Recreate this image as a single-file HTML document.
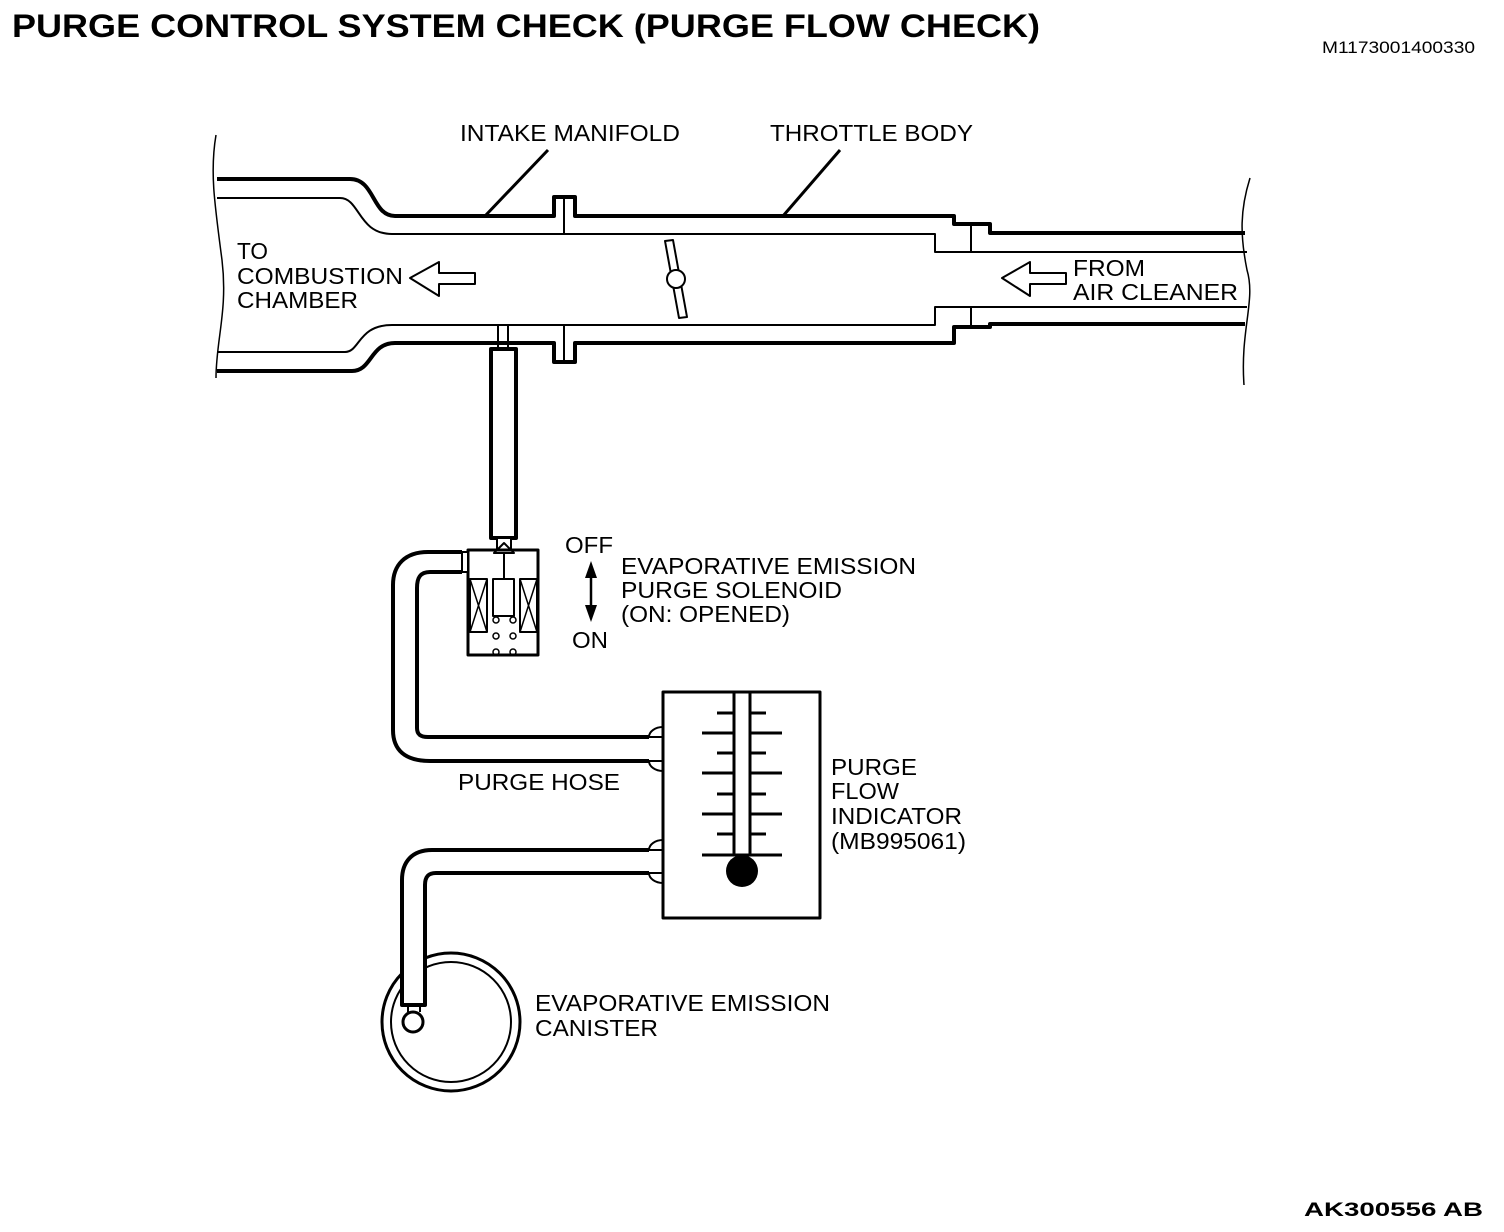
<!DOCTYPE html>
<html><head><meta charset="utf-8"><style>
html,body{margin:0;padding:0;background:#fff;}
svg{display:block;}
text{font-family:"Liberation Sans",Arial,sans-serif;fill:#000;}
</style></head><body>
<svg width="1504" height="1232" viewBox="0 0 1504 1232" xmlns="http://www.w3.org/2000/svg">
<text x="12" y="37" font-size="32" font-weight="bold" textLength="1028" lengthAdjust="spacingAndGlyphs">PURGE CONTROL SYSTEM CHECK (PURGE FLOW CHECK)</text>
<text x="1322" y="53" font-size="17" textLength="153" lengthAdjust="spacingAndGlyphs">M1173001400330</text>
<text x="1304" y="1216" font-size="19" font-weight="bold" textLength="179" lengthAdjust="spacingAndGlyphs">AK300556 AB</text>

<g fill="none" stroke="#000" stroke-linejoin="round">
<path d="M216 135 C210 170 214 200 222 260 C228 310 216 340 216 378" stroke-width="1.5"/>
<path d="M1250 178 C1240 210 1240 235 1247 270 C1256 300 1240 330 1244 385" stroke-width="1.5"/>
<path d="M217 179 H350 C375 179 372 216 395 216 H554 V197 H575 V216 H954 V224 H990 V233 H1245" stroke-width="4"/>
<path d="M217 198 H340 C360 198 358 234 392 234 H935 V252 H1247" stroke-width="2"/>
<line x1="564" y1="197" x2="564" y2="234" stroke-width="2"/>
<line x1="971" y1="224" x2="971" y2="252" stroke-width="2"/>
<path d="M217 352 H345 C360 352 358 325 392 325 H935 V307 H1247" stroke-width="2"/>
<line x1="564" y1="325" x2="564" y2="362" stroke-width="2"/>
<line x1="971" y1="307" x2="971" y2="327" stroke-width="2"/>
<path d="M217 371 H352 C372 371 370 343 395 343 H554 V362 H575 V343 H954 V327 H990 V324 H1245" stroke-width="4"/>
<line x1="485" y1="216" x2="548" y2="150" stroke-width="3"/>
<line x1="783" y1="216" x2="840" y2="150" stroke-width="3"/>
<polygon points="665,241 673,240 687,317 679,318" fill="#fff" stroke-width="2"/>
<circle cx="676" cy="279" r="9" fill="#fff" stroke-width="2"/>
<polygon points="410,278 439,262 439,273 475,273 475,284 439,284 439,296" stroke-width="2"/>
<polygon points="1002,278 1030,262 1030,273 1066,273 1066,284 1030,284 1030,296" stroke-width="2"/>
<rect x="498" y="325" width="10" height="24" stroke-width="2"/>
<rect x="491" y="349" width="25" height="189" stroke-width="4"/>
<rect x="497" y="538" width="14" height="12" stroke-width="2" fill="#fff"/>
<rect x="468" y="550" width="70" height="105" stroke-width="3"/>
<polygon points="504,543 494,553 514,553" stroke-width="2"/>
<line x1="504" y1="553" x2="504" y2="579" stroke-width="2"/>
<rect x="493" y="579" width="21" height="37" stroke-width="2"/>
<rect x="470" y="579" width="17" height="53" stroke-width="2"/>
<path d="M470 579 L487 632 M487 579 L470 632" stroke-width="1.5"/>
<rect x="520" y="579" width="17" height="53" stroke-width="2"/>
<path d="M520 579 L537 632 M537 579 L520 632" stroke-width="1.5"/>
<g stroke-width="1.5"><circle cx="496" cy="620" r="3"/><circle cx="513" cy="620" r="3"/><circle cx="496" cy="636" r="3"/><circle cx="513" cy="636" r="3"/><circle cx="496" cy="652" r="3"/><circle cx="513" cy="652" r="3"/></g>
<rect x="462" y="552" width="6" height="20" stroke-width="2" fill="#fff"/>
<path d="M462 552 H428 C405 552 393 565 393 585 V730 C393 750 405 761 430 761 H649" stroke-width="4"/>
<path d="M462 572 H430 C420 572 417 578 417 588 V728 C417 734 420 737 428 737 H649" stroke-width="4"/>
<rect x="663" y="692" width="157" height="226" stroke-width="3"/>
<path d="M663 727 A14 10 0 0 0 649 737 L663 737 M663 771 A14 10 0 0 1 649 761 L663 761" stroke-width="2"/>
<path d="M663 840 A14 10 0 0 0 649 850 L663 850 M663 883 A14 10 0 0 1 649 873 L663 873" stroke-width="2"/>
<path d="M734 692 V856 M750 692 V856" stroke-width="3"/>
<g stroke-width="3">
<path d="M717 713 H734 M750 713 H766"/>
<path d="M702 733 H734 M750 733 H782"/>
<path d="M717 753 H734 M750 753 H766"/>
<path d="M702 773 H734 M750 773 H782"/>
<path d="M717 794 H734 M750 794 H766"/>
<path d="M702 814 H734 M750 814 H782"/>
<path d="M717 834 H734 M750 834 H766"/>
<path d="M702 855 H782"/>
</g>
<circle cx="742" cy="871" r="16" fill="#000" stroke="none"/>
<circle cx="451" cy="1022" r="69" stroke-width="3"/>
<circle cx="451" cy="1022" r="60" stroke-width="2"/>
<path d="M649 850 H432 C412 850 402 862 402 880 V1005 H425 V885 C425 877 428 873 436 873 H649" stroke-width="4" fill="#fff"/>
<line x1="408" y1="1005" x2="408" y2="1012" stroke-width="2"/>
<line x1="420" y1="1005" x2="420" y2="1012" stroke-width="2"/>
<circle cx="413" cy="1022" r="10" stroke-width="3" fill="#fff"/>
<line x1="591" y1="575" x2="591" y2="608" stroke-width="2.5"/>
</g>
<polygon points="591,561 585,578 597,578" fill="#000"/>
<polygon points="591,622 585,605 597,605" fill="#000"/>

<g font-size="23" lengthAdjust="spacingAndGlyphs">
<text x="460" y="141" textLength="220" lengthAdjust="spacingAndGlyphs">INTAKE MANIFOLD</text>
<text x="770" y="141" textLength="203" lengthAdjust="spacingAndGlyphs">THROTTLE BODY</text>
<text x="237" y="259" textLength="31" lengthAdjust="spacingAndGlyphs">TO</text>
<text x="237" y="284" textLength="166" lengthAdjust="spacingAndGlyphs">COMBUSTION</text>
<text x="237" y="308" textLength="121" lengthAdjust="spacingAndGlyphs">CHAMBER</text>
<text x="1073" y="276" textLength="72" lengthAdjust="spacingAndGlyphs">FROM</text>
<text x="1073" y="300" textLength="165" lengthAdjust="spacingAndGlyphs">AIR CLEANER</text>
<text x="565" y="553" textLength="48" lengthAdjust="spacingAndGlyphs">OFF</text>
<text x="572" y="648" textLength="36" lengthAdjust="spacingAndGlyphs">ON</text>
<text x="621" y="574" textLength="295" lengthAdjust="spacingAndGlyphs">EVAPORATIVE EMISSION</text>
<text x="621" y="598" textLength="221" lengthAdjust="spacingAndGlyphs">PURGE SOLENOID</text>
<text x="621" y="622" textLength="169" lengthAdjust="spacingAndGlyphs">(ON: OPENED)</text>
<text x="458" y="790" textLength="162" lengthAdjust="spacingAndGlyphs">PURGE HOSE</text>
<text x="831" y="775" textLength="86" lengthAdjust="spacingAndGlyphs">PURGE</text>
<text x="831" y="799" textLength="68" lengthAdjust="spacingAndGlyphs">FLOW</text>
<text x="831" y="824" textLength="131" lengthAdjust="spacingAndGlyphs">INDICATOR</text>
<text x="831" y="849" textLength="135" lengthAdjust="spacingAndGlyphs">(MB995061)</text>
<text x="535" y="1011" textLength="295" lengthAdjust="spacingAndGlyphs">EVAPORATIVE EMISSION</text>
<text x="535" y="1036" textLength="123" lengthAdjust="spacingAndGlyphs">CANISTER</text>
</g>
</svg>
</body></html>
